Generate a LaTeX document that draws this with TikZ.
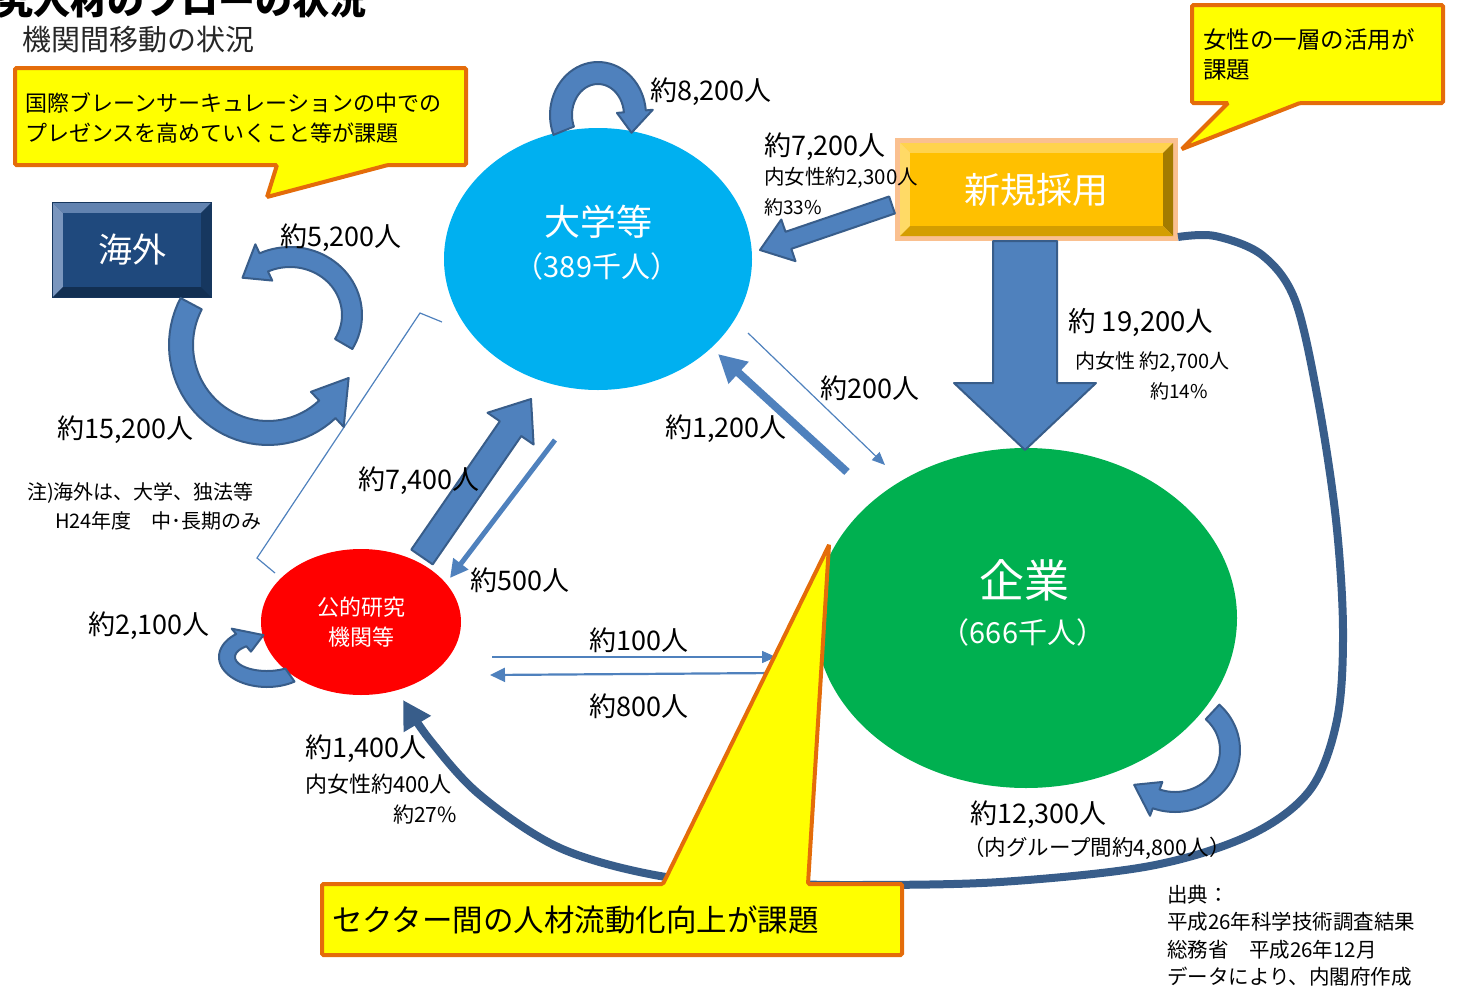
\documentclass[tikz,border=0pt]{standalone}
\usepackage{fontspec}
\setmainfont{Noto Sans CJK JP}
\usetikzlibrary{shapes.geometric,arrows.meta,calc}
\definecolor{bfill}{HTML}{4F81BD}
\definecolor{bline}{HTML}{385D8A}
\definecolor{cdai}{HTML}{00B0F0}
\definecolor{ckig}{HTML}{00B050}
\definecolor{ckot}{HTML}{FF0000}
\definecolor{cyel}{HTML}{FFFF00}
\definecolor{corg}{HTML}{E46C0A}
\definecolor{navyface}{HTML}{1F497D}
\definecolor{navyedge}{HTML}{17375E}
\definecolor{navytop}{HTML}{6283B0}
\definecolor{navyleft}{HTML}{7A96BE}
\definecolor{navyright}{HTML}{16375F}
\definecolor{navybot}{HTML}{122F52}
\definecolor{peach}{HTML}{FAC090}
\definecolor{orface}{HTML}{FFC000}
\definecolor{ortop}{HTML}{FFD34D}
\definecolor{orleft}{HTML}{FFDA66}
\definecolor{orright}{HTML}{A37B00}
\definecolor{orbot}{HTML}{D49E00}
\definecolor{subgray}{HTML}{262626}
% curved block arrow: cx cy rx ry a1 a2 halfwidth headhalfwidth headspan
\newcommand{\blockarc}[9]{%
  \pgfmathsetmacro{\bA}{#6-sign(#6-#5)*#9}%
  \filldraw[barrow] plot[domain=#5:\bA,samples=40] ({#1+(#3+#7)*cos(\x)},{#2+(#4+#7)*sin(\x)})
    -- ({#1+(#3+#8)*cos(\bA)},{#2+(#4+#8)*sin(\bA)})
    -- ({#1+#3*cos(#6)},{#2+#4*sin(#6)})
    -- ({#1+(#3-#8)*cos(\bA)},{#2+(#4-#8)*sin(\bA)})
    -- plot[domain=\bA:#5,samples=40] ({#1+(#3-#7)*cos(\x)},{#2+(#4-#7)*sin(\x)}) -- cycle;}
% straight block arrow: from to halfwidth headhalfwidth headlength style
\newcommand{\blockarrow}[6]{%
  \coordinate (bh) at ($(#2)!#5!(#1)$);
  \filldraw[#6] ($(#1)!#3!90:(#2)$) -- ($(bh)!#3!-90:(#1)$) -- ($(bh)!#4!-90:(#1)$) -- (#2)
    -- ($(bh)!#4!90:(#1)$) -- ($(bh)!#3!90:(#1)$) -- ($(#1)!#3!-90:(#2)$) -- cycle;}
% bevel: x1 y1 x2 y2 b top left right bottom
\newcommand{\bevelframe}[9]{%
  \fill[#6] (#1,#2) -- (#3,#2) -- (#3-#5,#2+#5) -- (#1+#5,#2+#5) -- cycle;
  \fill[#7] (#1,#2) -- (#1+#5,#2+#5) -- (#1+#5,#4-#5) -- (#1,#4) -- cycle;
  \fill[#8] (#3,#2) -- (#3,#4) -- (#3-#5,#4-#5) -- (#3-#5,#2+#5) -- cycle;
  \fill[#9] (#1,#4) -- (#3,#4) -- (#3-#5,#4-#5) -- (#1+#5,#4-#5) -- cycle;}
\tikzset{
  barrow/.style={fill=bfill, draw=bline, line width=2pt, line join=round},
  lbl/.style={inner sep=0pt, anchor=west, font=\fontsize{27}{30}\selectfont},
  sml/.style={inner sep=0pt, anchor=west, font=\fontsize{20}{24}\selectfont},
  calloutbox/.style={fill=cyel, draw=corg, line width=4pt, rounded corners=1.5pt},
  thinarr/.style={draw=bfill, line cap=butt},
  wlbl/.style={text=white, inner sep=0pt}
}
\begin{document}
\begin{tikzpicture}[x=1pt,y=-1pt]
\useasboundingbox (0,0) rectangle (1468,991);

% titles
\node[anchor=base west, inner sep=0pt, font=\bfseries\fontsize{37}{37}\selectfont] (title) at (-4,14) {究人材のフローの状況};
\node[anchor=base west, inner sep=0pt, text=subgray, font=\fontsize{29}{29}\selectfont] (subtitle) at (22,50) {機関間移動の状況};

% sectors
\node[ellipse, fill=cdai, minimum width=308pt, minimum height=262pt, inner sep=0pt] (dai) at (598,259) {};
\node[ellipse, fill=ckig, minimum width=422pt, minimum height=340pt, inner sep=0pt] (kig) at (1026,618) {};
\node[ellipse, fill=ckot, minimum width=200pt, minimum height=146pt, inner sep=0pt] (kot) at (361,622) {};
\node[wlbl, font=\fontsize{36}{36}\selectfont] (daiT) at (598,222) {大学等};
\node[wlbl, font=\fontsize{29}{29}\selectfont] (daiS) at (597,266) {（389千人）};
\node[wlbl, font=\fontsize{45}{45}\selectfont] (kigT) at (1024,580) {企業};
\node[wlbl, font=\fontsize{29}{29}\selectfont] (kigS) at (1023,632) {（666千人）};
\node[wlbl, align=center, font=\fontsize{22}{30}\selectfont] (kotT) at (361,622) {公的研究\\機関等};

% kaigai box
\fill[navyedge] (52,202) rectangle (212,298);
\bevelframe{53}{203}{211}{297}{10}{navytop}{navyleft}{navyright}{navybot}
\node[fill=navyface, minimum width=138pt, minimum height=74pt, inner sep=0pt, text=white, font=\fontsize{34}{34}\selectfont] (kaigai) at (132,250) {海外};

% shinki box
\fill[peach] (895,138) rectangle (1178,241);
\bevelframe{900}{143}{1173}{236}{10}{ortop}{orleft}{orright}{orbot}
\node[fill=orface, minimum width=253pt, minimum height=73pt, inner sep=0pt, text=white, font=\fontsize{36}{36}\selectfont] (shinki) at (1036.5,189.5) {新規採用};

% bracket
\draw[bfill, line width=1.2pt] (442,322) -- (420,313) -- (257,558) -- (275,573);

% long curve 新規採用 -> 公的
\coordinate (c14s) at (1178,237);
\coordinate (c14e) at (403,700);
\draw[bline, line width=8pt, -{Triangle[width=30pt,length=28pt]}] plot[smooth, tension=0.55] coordinates {(c14s) (1215,236) (1262,255) (1295,300) (1318,400) (1336,520) (1343,630) (1337,720) (1310,790) (1250,835) (1150,866) (1000,882) (860,885) (760,883) (660,876) (560,848) (480,795) (430,740) (c14e)};

% self loops and curved block arrows
\blockarc{598}{115}{37}{42}{158}{385}{11}{18}{30}
\blockarc{267}{657}{40}{22}{55}{265}{8}{15}{35}
\blockarc{1175}{750}{55}{52}{-47}{138}{10}{18}{28}
\blockarc{268}{345}{87}{88}{208}{22}{12}{24}{25}
\blockarc{290}{315}{62}{58}{30}{-140}{10}{20}{25}

% straight block arrows
\coordinate (s72) at (892,205); \coordinate (e72) at (760,250);
\blockarrow{s72}{e72}{9pt}{22pt}{30pt}{barrow}
\coordinate (s192) at (1025,241); \coordinate (e192) at (1025,450);
\blockarrow{s192}{e192}{32pt}{71pt}{67pt}{barrow}
\coordinate (s74) at (422,557); \coordinate (e74) at (531,399);
\blockarrow{s74}{e74}{13pt}{28pt}{36pt}{barrow}

% thin arrows
\coordinate (s5) at (555,440); \coordinate (e5) at (450,578);
\draw[thinarr, line width=5pt, -{Triangle[width=18pt,length=18pt]}] (s5) -- (e5);
\coordinate (s12) at (847,472); \coordinate (e12) at (718,354);
\draw[thinarr, line width=8pt, -{Triangle[width=28pt,length=28pt]}] (s12) -- (e12);
\coordinate (s2) at (748,333); \coordinate (e2) at (885,465);
\draw[thinarr, line width=1.2pt, -{Triangle[width=11pt,length=13pt]}] (s2) -- (e2);
\coordinate (s1) at (492,657); \coordinate (e1) at (776,657);
\draw[thinarr, line width=1.5pt, -{Triangle[width=12pt,length=14pt]}] (s1) -- (e1);
\coordinate (s8) at (776,673); \coordinate (e8) at (490,675);
\draw[thinarr, line width=2.2pt, -{Triangle[width=14pt,length=15pt]}] (s8) -- (e8);

% callouts
\draw[calloutbox] (15,68) -- (466,68) -- (466,165) -- (388,165) -- (267,197) -- (277,165) -- (15,165) -- cycle;
\node[anchor=north west, align=left, inner sep=0pt, font=\fontsize{22}{30}\selectfont] (co1) at (25,92) {国際ブレーンサーキュレーションの中での\\プレゼンスを高めていくこと等が課題};
\draw[calloutbox] (1192,5) -- (1443,5) -- (1443,103) -- (1300,103) -- (1182,149) -- (1228,103) -- (1192,103) -- cycle;
\node[anchor=north west, align=left, inner sep=0pt, font=\fontsize{23.5}{30}\selectfont] (co2) at (1203,28) {女性の一層の活用が\\課題};
\draw[calloutbox] (322,884) -- (663,884) -- (829,545) -- (808,884) -- (902,884) -- (902,955) -- (322,955) -- cycle;
\node[anchor=west, inner sep=0pt, font=\fontsize{30.5}{30.5}\selectfont] (co3) at (332,920) {セクター間の人材流動化向上が課題};

% labels
\node[lbl] (l82) at (650,92) {約8,200人};
\node[lbl] (l72) at (764,147) {約7,200人};
\node[sml, font=\fontsize{20.5}{20.5}\selectfont] (l72b) at (764,178) {内女性約2,300人};
\node[sml, font=\fontsize{19}{19}\selectfont] (l72c) at (764,207) {約33\%};
\node[lbl] (l52) at (280,238) {約5,200人};
\node[lbl] (l152) at (57,430) {約15,200人};
\node[sml] (note1) at (27,493) {注)海外は、大学、独法等};
\node[sml] (note2) at (55,521) {H24年度　中･長期のみ};
\node[lbl] (l74) at (358,481) {約7,400人};
\node[lbl] (l5) at (470,580) {約500人};
\node[lbl] (l21) at (88,626) {約2,100人};
\node[lbl] (l14) at (305,749) {約1,400人};
\node[sml, font=\fontsize{22}{22}\selectfont] (l14b) at (305,784) {内女性約400人};
\node[sml, anchor=east, font=\fontsize{21}{21}\selectfont] (l14c) at (457,815) {約27\%};
\node[lbl] (l1) at (589,640) {約100人};
\node[lbl] (l8) at (589,706) {約800人};
\node[lbl] (l2) at (820,388) {約200人};
\node[lbl] (l12) at (665,429) {約1,200人};
\node[lbl, font=\fontsize{27.5}{27.5}\selectfont] (l192) at (1068,323) {約 19,200人};
\node[sml, font=\fontsize{20}{20}\selectfont] (l192b) at (1075,362) {内女性 約2,700人};
\node[sml, font=\fontsize{19}{19}\selectfont] (l192c) at (1150,391) {約14\%};
\node[lbl] (l123) at (970,815) {約12,300人};
\node[sml, font=\fontsize{21.5}{21.5}\selectfont] (l123b) at (963,848) {（内グループ間約4,800人）};
\node[anchor=north west, align=left, inner sep=0pt, font=\fontsize{20.5}{27.3}\selectfont] (src) at (1167,885) {出典：\\平成26年科学技術調査結果\\総務省　平成26年12月\\データにより、内閣府作成};
\end{tikzpicture}
\end{document}
